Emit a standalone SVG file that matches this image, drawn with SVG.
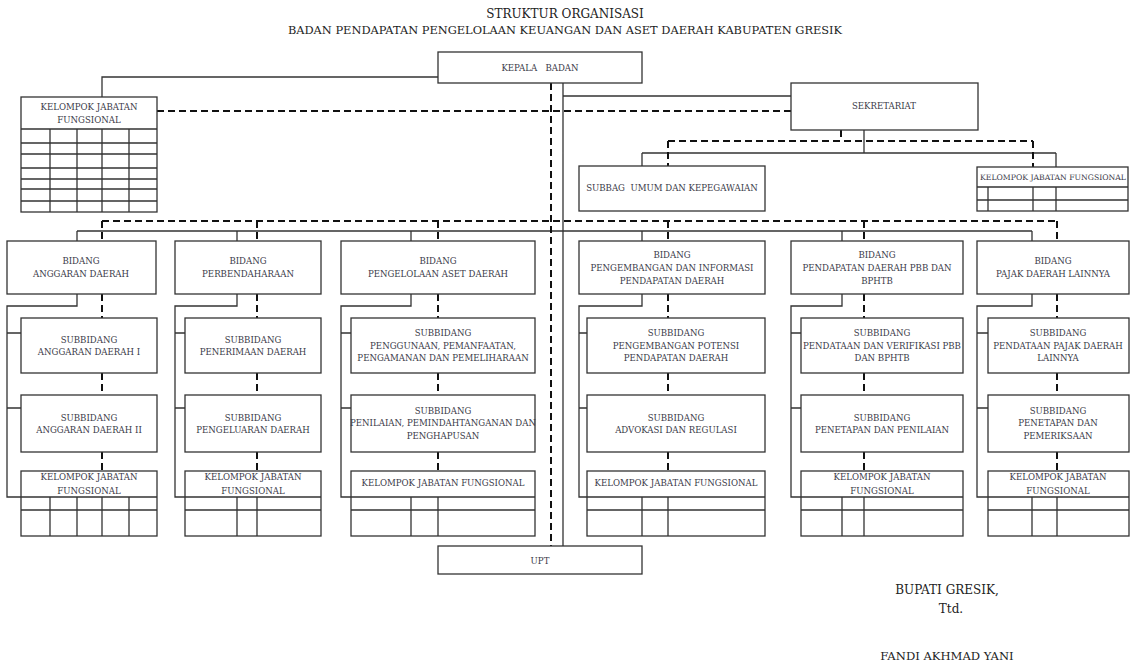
<svg xmlns="http://www.w3.org/2000/svg" width="1134" height="662" viewBox="0 0 1134 662">
<style>
.bx{fill:#fff;stroke:#333;stroke-width:1.3}
.ln{fill:none;stroke:#333;stroke-width:1.3}
.ds{fill:none;stroke:#111;stroke-width:2;stroke-dasharray:7 4}
.t{font-family:"DejaVu Serif","Liberation Serif",serif;font-size:8.6px;fill:#3a3a48;text-anchor:middle}
.s{font-size:7.7px}
.h{font-family:"DejaVu Serif","Liberation Serif",serif;font-size:12px;fill:#222;text-anchor:middle}
.h2{font-size:11.4px}
</style>
<rect width="1134" height="662" fill="#fff"/>
<text class="h" x="565" y="18">STRUKTUR ORGANISASI</text>
<text class="h h2" x="565" y="34">BADAN PENDAPATAN PENGELOLAAN KEUANGAN DAN ASET DAERAH KABUPATEN GRESIK</text>

<g id="connectors">
<path class="ln" d="M438 77H102V97M563 83V546M563 96H791M864 130V153M642 153H1056M642 153V166M1056 153V167M77 231H1032"/>
<path class="ds" d="M551 83V546M157 111H791M841 130V141M668 141H1033M668 141V166M1033 141V167M102 221H1057"/>
<path class="ln" d="M77 231V241M237 231V241M411 231V241M642 231V241M842 231V241M1032 231V241"/>
<path class="ds" d="M102 221V241M257 221V241M438 221V241M668 221V241M864 221V241M1057 221V241"/>
<path class="ln" d="M77 294V306H7V497H21M7 333H21M7 408H21"/>
<path class="ln" d="M237 294V306H175V497H185M175 333H185M175 408H185"/>
<path class="ln" d="M411 294V306H341V497H351M341 333H351M341 408H351"/>
<path class="ln" d="M642 294V306H579V497H587M579 333H587M579 408H587"/>
<path class="ln" d="M842 294V306H791V497H801M791 333H801M791 408H801"/>
<path class="ln" d="M1032 294V306H977V497H988M977 333H988M977 408H988"/>
<path class="ds" d="M102 294V318M102 373V395M102 452V471"/>
<path class="ds" d="M257 294V318M257 373V395M257 452V471"/>
<path class="ds" d="M438 294V318M438 373V395M438 452V471"/>
<path class="ds" d="M668 294V318M668 373V395M668 452V471"/>
<path class="ds" d="M864 294V318M864 373V395M864 452V471"/>
<path class="ds" d="M1057 294V318M1057 373V395M1057 452V471"/>
</g>

<g id="kepala"><rect class="bx" x="438" y="52" width="204" height="31"/><text class="t" x="540" y="71">KEPALA&#160;&#160;&#160;BADAN</text></g>
<g id="sekretariat"><rect class="bx" x="791" y="83" width="187" height="47"/><text class="t" x="884" y="109">SEKRETARIAT</text></g>
<g id="subbag"><rect class="bx" x="579" y="166" width="186" height="45"/><text class="t" x="672" y="191">SUBBAG&#160;&#160;UMUM DAN KEPEGAWAIAN</text></g>
<g id="kjf-sek"><rect class="bx" x="977" y="167" width="151" height="44"/><path class="ln" d="M977 187H1128M977 200H1128M988 187V211M1033 187V211M1056 187V211"/><text class="t s" x="1053" y="180">KELOMPOK JABATAN FUNGSIONAL</text></g>
<g id="kjf-top"><rect class="bx" x="21" y="97" width="136" height="115"/><path class="ln" d="M21 129H157M21 143H157M21 154H157M21 168H157M21 179H157M21 189H157M21 201H157M50 129V212M77 129V212M102 129V212M129 129V212"/><text class="t" x="89" y="110">KELOMPOK JABATAN</text><text class="t" x="89" y="123">FUNGSIONAL</text></g>

<g id="bidang-anggaran"><rect class="bx" x="7" y="241" width="149" height="53"/><text class="t" x="81" y="264">BIDANG</text><text class="t" x="81" y="277">ANGGARAN DAERAH</text></g>
<g id="bidang-perbendaharaan"><rect class="bx" x="175" y="241" width="146" height="53"/><text class="t" x="248" y="264">BIDANG</text><text class="t" x="248" y="277">PERBENDAHARAAN</text></g>
<g id="bidang-aset"><rect class="bx" x="341" y="241" width="194" height="53"/><text class="t" x="438" y="264">BIDANG</text><text class="t" x="438" y="277">PENGELOLAAN ASET DAERAH</text></g>
<g id="bidang-pengembangan"><rect class="bx" x="579" y="241" width="186" height="53"/><text class="t" x="672" y="258">BIDANG</text><text class="t" x="672" y="271">PENGEMBANGAN DAN INFORMASI</text><text class="t" x="672" y="284">PENDAPATAN DAERAH</text></g>
<g id="bidang-pbb"><rect class="bx" x="791" y="241" width="172" height="53"/><text class="t" x="877" y="258">BIDANG</text><text class="t" x="877" y="271">PENDAPATAN DAERAH PBB DAN</text><text class="t" x="877" y="284">BPHTB</text></g>
<g id="bidang-pajak"><rect class="bx" x="977" y="241" width="152" height="53"/><text class="t" x="1053" y="264">BIDANG</text><text class="t" x="1053" y="277">PAJAK DAERAH LAINNYA</text></g>

<g id="sub-anggaran-1"><rect class="bx" x="21" y="318" width="136" height="55"/><text class="t" x="89" y="343">SUBBIDANG</text><text class="t" x="89" y="355">ANGGARAN DAERAH I</text></g>
<g id="sub-anggaran-2"><rect class="bx" x="21" y="395" width="136" height="57"/><text class="t" x="89" y="421">SUBBIDANG</text><text class="t" x="89" y="433">ANGGARAN DAERAH II</text></g>
<g id="sub-penerimaan"><rect class="bx" x="185" y="318" width="136" height="55"/><text class="t" x="253" y="343">SUBBIDANG</text><text class="t" x="253" y="355">PENERIMAAN DAERAH</text></g>
<g id="sub-pengeluaran"><rect class="bx" x="185" y="395" width="136" height="57"/><text class="t" x="253" y="421">SUBBIDANG</text><text class="t" x="253" y="433">PENGELUARAN DAERAH</text></g>
<g id="sub-penggunaan"><rect class="bx" x="351" y="318" width="184" height="55"/><text class="t" x="443" y="336">SUBBIDANG</text><text class="t" x="443" y="349">PENGGUNAAN, PEMANFAATAN,</text><text class="t" x="443" y="361">PENGAMANAN DAN PEMELIHARAAN</text></g>
<g id="sub-penilaian"><rect class="bx" x="351" y="395" width="184" height="57"/><text class="t" x="443" y="414">SUBBIDANG</text><text class="t" x="443" y="426">PENILAIAN, PEMINDAHTANGANAN DAN</text><text class="t" x="443" y="439">PENGHAPUSAN</text></g>
<g id="sub-potensi"><rect class="bx" x="587" y="318" width="178" height="55"/><text class="t" x="676" y="336">SUBBIDANG</text><text class="t" x="676" y="349">PENGEMBANGAN POTENSI</text><text class="t" x="676" y="361">PENDAPATAN DAERAH</text></g>
<g id="sub-advokasi"><rect class="bx" x="587" y="395" width="178" height="57"/><text class="t" x="676" y="421">SUBBIDANG</text><text class="t" x="676" y="433">ADVOKASI DAN REGULASI</text></g>
<g id="sub-pendataan-pbb"><rect class="bx" x="801" y="318" width="162" height="55"/><text class="t" x="882" y="336">SUBBIDANG</text><text class="t" x="882" y="349">PENDATAAN DAN VERIFIKASI PBB</text><text class="t" x="882" y="361">DAN BPHTB</text></g>
<g id="sub-penetapan-pbb"><rect class="bx" x="801" y="395" width="162" height="57"/><text class="t" x="882" y="421">SUBBIDANG</text><text class="t" x="882" y="433">PENETAPAN DAN PENILAIAN</text></g>
<g id="sub-pendataan-pajak"><rect class="bx" x="988" y="318" width="141" height="55"/><text class="t" x="1058" y="336">SUBBIDANG</text><text class="t" x="1058" y="349">PENDATAAN PAJAK DAERAH</text><text class="t" x="1058" y="361">LAINNYA</text></g>
<g id="sub-penetapan-pajak"><rect class="bx" x="988" y="395" width="141" height="57"/><text class="t" x="1058" y="414">SUBBIDANG</text><text class="t" x="1058" y="426">PENETAPAN DAN</text><text class="t" x="1058" y="439">PEMERIKSAAN</text></g>

<g id="kjf-1"><rect class="bx" x="21" y="471" width="136" height="65"/><path class="ln" d="M21 497H157M21 510H157M50 497V536M77 497V536M102 497V536M129 497V536"/><text class="t" x="89" y="480">KELOMPOK JABATAN</text><text class="t" x="89" y="494">FUNGSIONAL</text></g>
<g id="kjf-2"><rect class="bx" x="185" y="471" width="136" height="65"/><path class="ln" d="M185 497H321M185 510H321M237 497V536M257 497V536"/><text class="t" x="253" y="480">KELOMPOK JABATAN</text><text class="t" x="253" y="494">FUNGSIONAL</text></g>
<g id="kjf-3"><rect class="bx" x="351" y="471" width="184" height="65"/><path class="ln" d="M351 497H535M351 510H535M411 497V536M438 497V536"/><text class="t" x="443" y="486">KELOMPOK JABATAN FUNGSIONAL</text></g>
<g id="kjf-4"><rect class="bx" x="587" y="471" width="178" height="65"/><path class="ln" d="M587 497H765M587 510H765M642 497V536M668 497V536"/><text class="t" x="676" y="486">KELOMPOK JABATAN FUNGSIONAL</text></g>
<g id="kjf-5"><rect class="bx" x="801" y="471" width="162" height="65"/><path class="ln" d="M801 497H963M801 510H963M842 497V536M864 497V536"/><text class="t" x="882" y="480">KELOMPOK JABATAN</text><text class="t" x="882" y="494">FUNGSIONAL</text></g>
<g id="kjf-6"><rect class="bx" x="988" y="471" width="141" height="65"/><path class="ln" d="M988 497H1129M988 510H1129M1032 497V536M1057 497V536"/><text class="t" x="1058" y="480">KELOMPOK JABATAN</text><text class="t" x="1058" y="494">FUNGSIONAL</text></g>

<g id="upt"><rect class="bx" x="438" y="546" width="204" height="28"/><text class="t" x="540" y="564">UPT</text></g>

<g id="signature">
<text class="h" x="947" y="594">BUPATI GRESIK,</text>
<text class="h" x="951" y="613">Ttd.</text>
<text class="h" x="947" y="660" style="font-size:11.6px">FANDI AKHMAD YANI</text>
</g>
</svg>
